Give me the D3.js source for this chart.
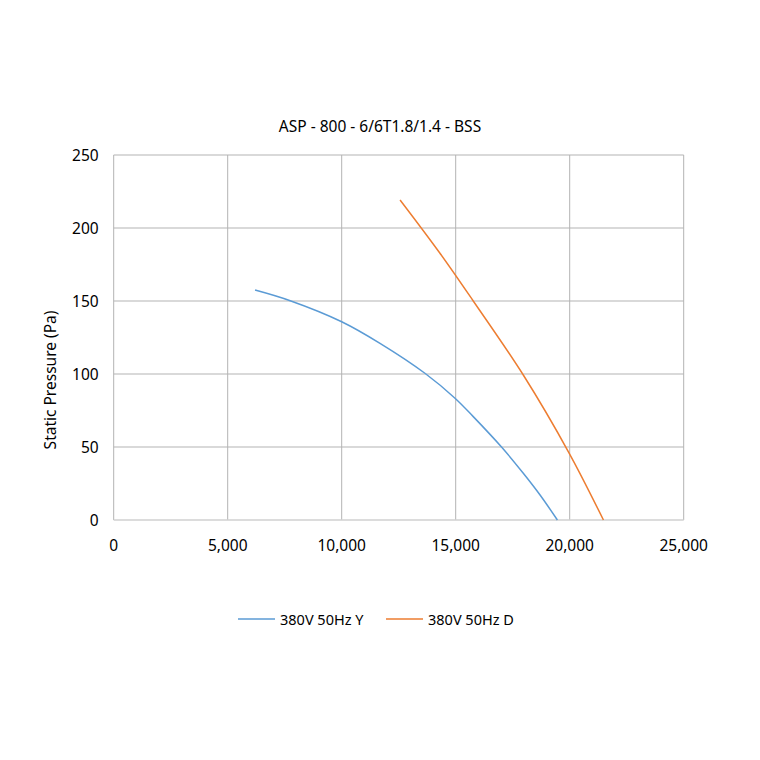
<!DOCTYPE html>
<html>
<head>
<meta charset="utf-8">
<script src="https://cdn.jsdelivr.net/npm/d3@7"></script>
<style>
  body { margin: 0; background: #fff; }
  text { font-family: "Noto Sans", "Open Sans", sans-serif; fill: #000; }
</style>
</head>
<body>
<div id="chart"></div>
<script>
// fan curves: airflow (x) vs static pressure (Pa)
const seriesNames = ["380V 50Hz Y", "380V 50Hz D"];
const seriesColors = ["#5b9bd5", "#ed7d31"];

const flowY = [6200, 7740, 10000, 11680, 13650, 14970, 15770, 17020, 17965, 18700, 19460];
const pressY = [157.5, 150.2, 135.8, 121, 100.5, 83.4, 70.8, 49.8, 32, 17.1, 0];

const flowD = [12560, 14310, 15770, 17965, 19980, 21480];
const pressD = [219.2, 182.7, 150, 99.3, 45.7, 0];

const xTicks = [0, 5000, 10000, 15000, 20000, 25000];
const yTicks = [0, 50, 100, 150, 200, 250];

const W = 760, H = 760;
const margin = {left: 113.7, right: 760 - 683.7, top: 155, bottom: 760 - 520};

const svg = d3.select("#chart").append("svg")
    .attr("width", W)
    .attr("height", H);

const x = d3.scaleLinear().domain([0, 25000]).range([margin.left, W - margin.right]);
const y = d3.scaleLinear().domain([0, 250]).range([H - margin.bottom, margin.top]);

// gridlines
svg.append("g").selectAll("line.v")
    .data(xTicks.slice(1))
    .enter().append("line")
    .attr("x1", d => x(d)).attr("x2", d => x(d))
    .attr("y1", y(0)).attr("y2", y(250))
    .attr("stroke", "#b3b3b3").attr("stroke-width", 1);

svg.append("g").selectAll("line.h")
    .data(yTicks.slice(1))
    .enter().append("line")
    .attr("x1", x(0)).attr("x2", x(25000))
    .attr("y1", d => y(d)).attr("y2", d => y(d))
    .attr("stroke", "#b3b3b3").attr("stroke-width", 1);

// axis lines
svg.append("line")
    .attr("x1", x(0)).attr("x2", x(0))
    .attr("y1", y(0)).attr("y2", y(250))
    .attr("stroke", "#b3b3b3");
svg.append("line")
    .attr("x1", x(0)).attr("x2", x(25000))
    .attr("y1", y(0)).attr("y2", y(0))
    .attr("stroke", "#d0d0d0").attr("stroke-width", 1.5);

// tick labels
const fmt = d3.format(",");
svg.append("g").selectAll("text")
    .data(xTicks)
    .enter().append("text")
    .attr("x", d => x(d))
    .attr("y", y(0) + 31)
    .attr("text-anchor", "middle")
    .attr("font-size", 15.5)
    .text(d => fmt(d));

svg.append("g").selectAll("text")
    .data(yTicks)
    .enter().append("text")
    .attr("x", x(0) - 15)
    .attr("y", d => y(d) + 5.5)
    .attr("text-anchor", "end")
    .attr("font-size", 15.5)
    .text(d => d);

// title and axis label
svg.append("text")
    .attr("x", 380).attr("y", 132)
    .attr("text-anchor", "middle")
    .attr("font-size", 15.5)
    .text("ASP - 800 - 6/6T1.8/1.4 - BSS");

svg.append("text")
    .attr("transform", "translate(56,380) rotate(-90)")
    .attr("text-anchor", "middle")
    .attr("font-size", 15.5)
    .text("Static Pressure (Pa)");

// curves
const line = d3.line()
    .x(d => x(d[0]))
    .y(d => y(d[1]))
    .curve(d3.curveCatmullRom.alpha(0.5));

const series = [d3.zip(flowY, pressY), d3.zip(flowD, pressD)];

svg.append("g").selectAll("path")
    .data(series)
    .enter().append("path")
    .attr("d", line)
    .attr("fill", "none")
    .attr("stroke", (d, i) => seriesColors[i])
    .attr("stroke-width", 1.5);

// legend
const legendX = [238, 386];
const lg = svg.append("g").selectAll("g")
    .data(seriesNames)
    .enter().append("g")
    .attr("transform", (d, i) => "translate(" + legendX[i] + ",619)");
lg.append("line")
    .attr("x1", 0).attr("x2", 37)
    .attr("y1", 0).attr("y2", 0)
    .attr("stroke", (d, i) => seriesColors[i])
    .attr("stroke-width", 1.5);
lg.append("text")
    .attr("x", 42).attr("y", 5.5)
    .attr("font-size", 14.5)
    .text(d => d);
</script>
</body>
</html>
